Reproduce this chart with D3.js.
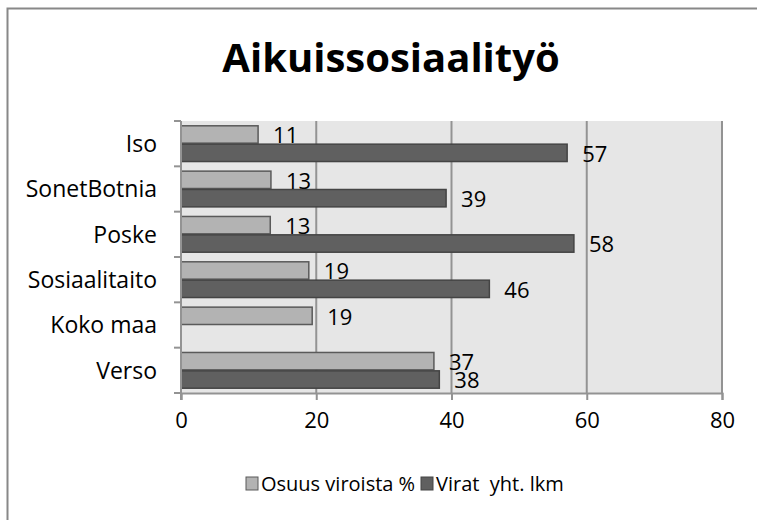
<!DOCTYPE html>
<html><head><meta charset="utf-8">
<script src="https://cdn.jsdelivr.net/npm/d3@7"></script>
<style>
html,body{margin:0;background:#fff;overflow:hidden;}
svg{display:block;font-family:"Open Sans","Noto Sans",sans-serif;}
</style></head>
<body><svg id="c" width="757" height="520"></svg>
<script>
const title = "Aikuissosiaalityö";
const categories = ["Iso","SonetBotnia","Poske","Sosiaalitaito","Koko maa","Verso"];
const seriesNames = ["Osuus viroista %","Virat  yht. lkm"];
const osuus = [11.4, 13.3, 13.2, 18.9, 19.4, 37.4];
const virat = [57.1, 39.2, 58.1, 45.6, null, 38.2];
const xTicks = [0,20,40,60,80];
const colors = ["#b3b3b3","#606060"];
const strokes = ["#5a5a5a","#444444"];
const FS = 22;

const svg = d3.select("#c");
// outer chart border (only top and left edges visible)
svg.append("path").attr("d","M7.5,520 L7.5,8.5 L757,8.5")
  .attr("fill","none").attr("stroke","#888").attr("stroke-width",2);

const x = d3.scaleLinear().domain([0,80]).range([181,722]);
const y = d3.scaleBand().domain(categories).range([121,393]).padding(0);
const sub = d3.scaleBand().domain([0,1]).range([4.3, y.bandwidth()-4.3]).padding(0);

const plot = svg.append("g");
plot.append("rect").attr("x",x(0)).attr("y",121).attr("width",x(80)-x(0)).attr("height",272).attr("fill","#e6e6e6");

// gridlines
plot.selectAll("line.grid").data(xTicks.slice(1)).join("line")
  .attr("x1",d=>x(d)).attr("x2",d=>x(d)).attr("y1",121).attr("y2",393)
  .attr("stroke","#939393").attr("stroke-width",2);

// bars
const series = [osuus, virat];
series.forEach((vals,si)=>{
  const data = categories.map((c,i)=>({c, v: vals[i]})).filter(d=>d.v!=null);
  plot.selectAll("rect.s"+si).data(data).join("rect")
    .attr("x",x(0)).attr("y",d=>y(d.c)+sub(si)+0.5)
    .attr("width",d=>x(d.v)-x(0)).attr("height",sub.bandwidth()-1)
    .attr("fill",colors[si]).attr("stroke",strokes[si]).attr("stroke-width",1.5);
});

// axes
const xAxis = d3.axisBottom(x).tickValues(xTicks).tickSize(7).tickPadding(12).tickFormat(d3.format("d"));
const gx = svg.append("g").attr("transform","translate(0,393)").call(xAxis);
gx.select(".domain").attr("stroke","#939393").attr("stroke-width",2);
gx.selectAll(".tick line").attr("stroke","#939393").attr("stroke-width",2);
gx.selectAll(".tick text").attr("font-size",FS).attr("fill","#000").attr("font-family","Open Sans");

const gy = svg.append("g").attr("transform","translate(181,0)");
gy.append("line").attr("x1",0).attr("x2",0).attr("y1",121).attr("y2",400).attr("stroke","#939393").attr("stroke-width",2);
const bounds = categories.map(c=>y(c)).concat([393]);
gy.selectAll("line.t").data(bounds).join("line")
  .attr("x1",-7).attr("x2",0).attr("y1",d=>d).attr("y2",d=>d).attr("stroke","#939393").attr("stroke-width",2);
gy.selectAll("text").data(categories).join("text")
  .attr("x",-24).attr("y",d=>y(d)+y.bandwidth()/2).attr("dy","0.36em")
  .attr("text-anchor","end").attr("font-size",23).attr("fill","#000").text(d=>d);

// data labels
const fmt = d=>d.toFixed(0);
series.forEach((vals,si)=>{
  const data = categories.map((c,i)=>({c, v: vals[i]})).filter(d=>d.v!=null);
  svg.selectAll("text.l"+si).data(data).join("text")
    .attr("x",d=>x(d.v)+15).attr("y",d=>y(d.c)+sub(si)+sub.bandwidth()/2+1).attr("dy","0.36em")
    .attr("font-size",FS).attr("fill","#000").text(d=>fmt(d.v));
});

// title
svg.append("text").attr("x",391).attr("y",72).attr("text-anchor","middle")
  .attr("font-size",40).attr("font-weight","bold").attr("fill","#000").text(title);

// legend
const leg = svg.append("g");
const legX = [246, 421];
seriesNames.forEach((n,i)=>{
  leg.append("rect").attr("x",legX[i]).attr("y",477).attr("width",12).attr("height",13)
    .attr("fill",colors[i]).attr("stroke",strokes[i]).attr("stroke-width",1);
  leg.append("text").attr("x",legX[i]+15).attr("y",491).attr("font-size",20).attr("fill","#000")
    .attr("xml:space","preserve").style("white-space","pre").text(n);
});
</script></body></html>
